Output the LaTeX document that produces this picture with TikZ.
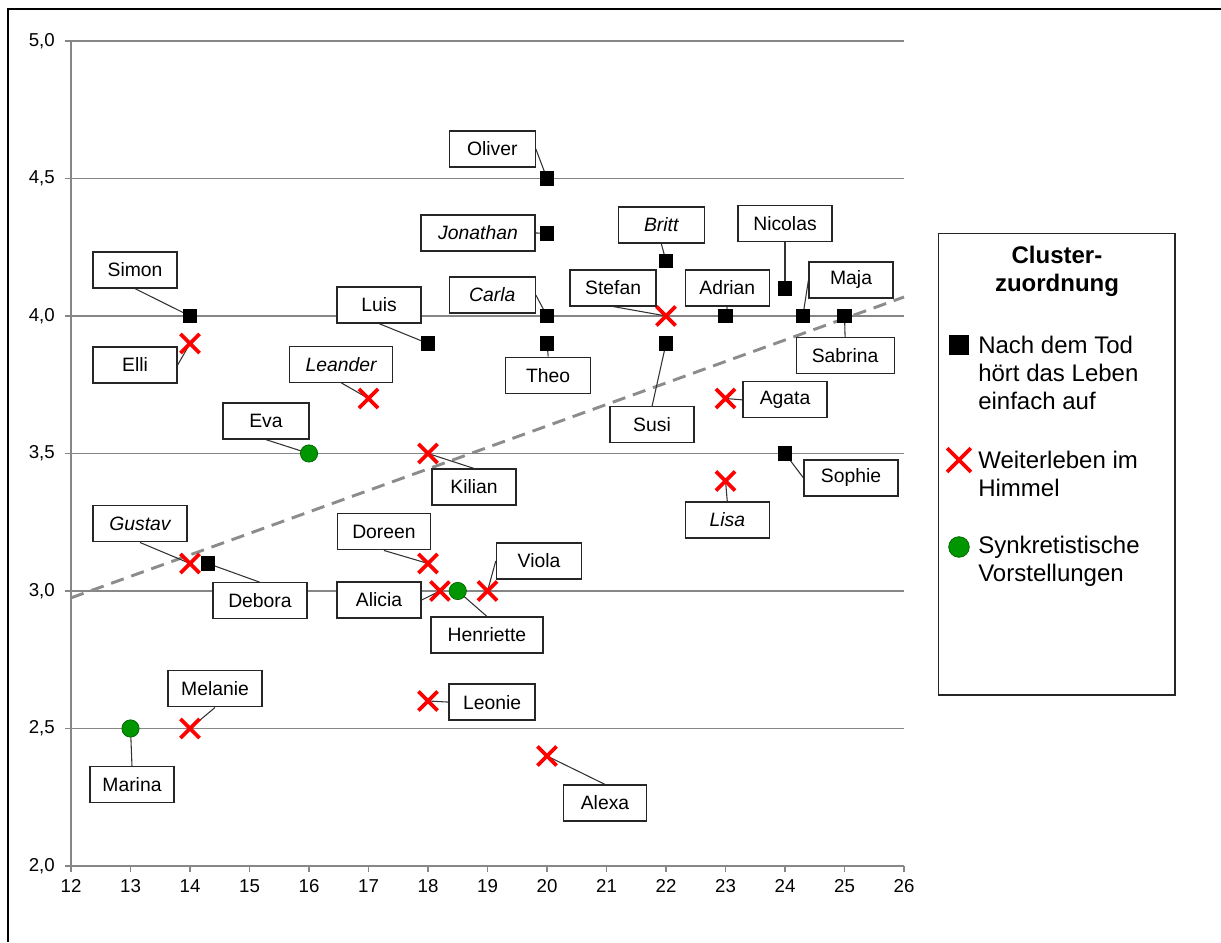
\documentclass[tikz,border=0pt]{standalone}
\usepackage{fontspec}
\setmainfont{Liberation Sans}
\usepackage{tikz}
\usetikzlibrary{shapes.misc}
\pgfdeclarelayer{bg}
\pgfsetlayers{bg,main}
\definecolor{gridgray}{RGB}{134,134,134}
\definecolor{trendgray}{RGB}{140,140,140}
\definecolor{dotgreen}{RGB}{0,150,0}
\definecolor{dotrim}{RGB}{0,95,0}
\tikzset{every node/.append style={font=\fontsize{14.5}{17}\selectfont}}
\tikzset{
  namebox/.style={draw=black!85, line width=0.9pt, fill=white, minimum width=63pt, minimum height=27pt, inner xsep=4pt},
  sqmark/.style={fill=black, minimum size=11pt, inner sep=0pt},
  crossmark/.style={cross out, draw=red, line width=2.8pt, minimum size=11.5pt, inner sep=0pt},
  dotmark/.style={circle, fill=dotgreen, draw=dotrim, line width=0.5pt, minimum size=13pt, inner sep=0pt},
  leader/.style={black!80, line width=0.8pt},
  gridline/.style={gridgray, line width=0.9pt},
  legendtext/.style={font=\fontsize{18}{21}\selectfont, align=left, anchor=west, inner sep=0pt}
}

\begin{document}
\begin{tikzpicture}[x=44.625pt, y=206.25pt]
    \useasboundingbox (10.8067,1.7236) rectangle (31.3277,5.1491);
    % frame (top and left only)
    \draw[line width=1.1pt] (10.9412,1.7236) -- (10.9412,5.1164) -- (31.3277,5.1164);

    % data points
    \node[sqmark] (oliver) at (20,4.5) {};
    \node[sqmark] (jonathan) at (20,4.3) {};
    \node[sqmark] (carla) at (20,4.0) {};
    \node[sqmark] (theo) at (20,3.9) {};
    \node[sqmark] (britt) at (22,4.2) {};
    \node[crossmark] (stefan) at (22,4.0) {};
    \node[sqmark] (adrian) at (23,4.0) {};
    \node[sqmark] (nicolas) at (24,4.1) {};
    \node[sqmark] (maja) at (24.3,4.0) {};
    \node[sqmark] (sabrina) at (25,4.0) {};
    \node[sqmark] (susi) at (22,3.9) {};
    \node[crossmark] (agata) at (23,3.7) {};
    \node[sqmark] (sophie) at (24,3.5) {};
    \node[crossmark] (lisa) at (23,3.4) {};
    \node[sqmark] (simon) at (14,4.0) {};
    \node[crossmark] (elli) at (14,3.9) {};
    \node[sqmark] (luis) at (18,3.9) {};
    \node[crossmark] (leander) at (17,3.7) {};
    \node[dotmark] (eva) at (16,3.5) {};
    \node[crossmark] (kilian) at (18,3.5) {};
    \node[crossmark] (gustav) at (14,3.1) {};
    \node[sqmark] (debora) at (14.3,3.1) {};
    \node[crossmark] (doreen) at (18,3.1) {};
    \node[crossmark] (alicia) at (18.2,3.0) {};
    \node[dotmark] (henriette) at (18.5,3.0) {};
    \node[crossmark] (viola) at (19,3.0) {};
    \node[crossmark] (melanie) at (14,2.5) {};
    \node[crossmark] (leonie) at (18,2.6) {};
    \node[dotmark] (marina) at (13,2.5) {};
    \node[crossmark] (alexa) at (20,2.4) {};

    % name labels
    \node[namebox, minimum width=64.5pt] (oliverL) at (19.08,4.607) {Oliver};
    \node[namebox, minimum width=85.5pt] (jonathanL) at (18.84,4.302) {\itshape Jonathan};
    \node[namebox, minimum width=64.5pt] (carlaL) at (19.08,4.076) {\itshape Carla};
    \node[namebox, minimum width=64pt] (theoL) at (20.02,3.785) {Theo};
    \node[namebox, minimum width=64.5pt] (brittL) at (21.92,4.331) {\itshape Britt};
    \node[namebox, minimum width=64.5pt] (stefanL) at (21.11,4.102) {Stefan};
    \node[namebox] (adrianL) at (23.03,4.102) {Adrian};
    \node[namebox, minimum width=70.5pt] (nicolasL) at (24.0,4.335) {Nicolas};
    \node[namebox] (majaL) at (25.11,4.131) {Maja};
    \node[namebox, minimum width=73.5pt] (sabrinaL) at (25.01,3.855) {Sabrina};
    \node[namebox] (susiL) at (21.765,3.604) {Susi};
    \node[namebox] (agataL) at (24.0,3.695) {Agata};
    \node[namebox, minimum width=70.5pt] (sophieL) at (25.11,3.411) {Sophie};
    \node[namebox] (lisaL) at (23.03,3.258) {\itshape Lisa};
    \node[namebox] (simonL) at (13.076,4.167) {Simon};
    \node[namebox] (elliL) at (13.076,3.822) {Elli};
    \node[namebox] (luisL) at (17.176,4.04) {Luis};
    \node[namebox, minimum width=77pt] (leanderL) at (16.538,3.825) {\itshape Leander};
    \node[namebox, minimum width=64.5pt] (evaL) at (15.277,3.618) {Eva};
    \node[namebox] (kilianL) at (18.773,3.378) {Kilian};
    \node[namebox, minimum width=70.5pt] (gustavL) at (13.16,3.244) {\itshape Gustav};
    \node[namebox, minimum width=70.5pt] (deboraL) at (15.176,2.964) {Debora};
    \node[namebox, minimum width=70pt] (doreenL) at (17.26,3.215) {Doreen};
    \node[namebox] (aliciaL) at (17.176,2.967) {Alicia};
    \node[namebox, minimum width=84pt] (henrietteL) at (18.99,2.84) {Henriette};
    \node[namebox, minimum width=64pt] (violaL) at (19.866,3.109) {Viola};
    \node[namebox, minimum width=70.5pt] (melanieL) at (14.42,2.644) {Melanie};
    \node[namebox, minimum width=64.5pt] (leonieL) at (19.076,2.596) {Leonie};
    \node[namebox] (marinaL) at (13.025,2.295) {Marina};
    \node[namebox, minimum width=62pt] (alexaL) at (20.975,2.229) {Alexa};

    \begin{pgfonlayer}{bg}
        % grid, axes, ticks
        \draw[gridline] (12,2) -- (12,5);
        \foreach \y/\t [count=\i] in {2/{2,0},2.5/{2,5},3/{3,0},3.5/{3,5},4/{4,0},4.5/{4,5},5/{5,0}} {
            \draw[gridline] (11.9,\y) -- (26,\y);
            \node[anchor=east, inner sep=0pt, font=\fontsize{14}{16}\selectfont] (ytick\i) at (11.731,\y) {\t};
        }
        \foreach \x in {12,...,26} {
            \draw[gridline] (\x,2) -- (\x,1.978);
            \node[font=\fontsize{14}{16}\selectfont] (xtick\x) at (\x,1.927) {\x};
        }
        % trend line
        \draw[trendgray, line width=2.2pt, dash pattern=on 10pt off 6pt] (12,2.975) -- (26,4.069);
        % leaders
        \draw[leader] (oliverL.east) -- (oliver.center);
        \draw[leader] (jonathanL.east) -- (jonathan.center);
        \draw[leader] (carlaL.east) -- (carla.center);
        \draw[leader] (theoL.north) -- (theo.center);
        \draw[leader] (brittL.south) -- (britt.center);
        \draw[leader] (stefanL.south) -- (stefan.center);
        \draw[leader] (adrianL.south) -- (adrian.center);
        \draw[leader] (nicolasL.south) -- (nicolas.center);
        \draw[leader] (majaL.west) -- (maja.center);
        \draw[leader] (sabrinaL.north) -- (sabrina.center);
        \draw[leader] (susiL.north) -- (susi.center);
        \draw[leader] (agataL.west) -- (agata.center);
        \draw[leader] (sophieL.west) -- (sophie.center);
        \draw[leader] (lisaL.north) -- (lisa.center);
        \draw[leader] (simonL.south) -- (simon.center);
        \draw[leader] (elliL.east) -- (elli.center);
        \draw[leader] (luisL.south) -- (luis.center);
        \draw[leader] (leanderL.south) -- (leander.center);
        \draw[leader] (evaL.south) -- (eva.center);
        \draw[leader] (kilianL.north) -- (kilian.center);
        \draw[leader] (gustavL.south) -- (gustav.center);
        \draw[leader] (deboraL.north) -- (debora.center);
        \draw[leader] (doreenL.south) -- (doreen.center);
        \draw[leader] (aliciaL.east) -- (alicia.center);
        \draw[leader] (henrietteL.north) -- (henriette.center);
        \draw[leader] (violaL.west) -- (viola.center);
        \draw[leader] (melanieL.south) -- (melanie.center);
        \draw[leader] (leonieL.west) -- (leonie.center);
        \draw[leader] (marinaL.north) -- (marina.center);
        \draw[leader] (alexaL.north) -- (alexa.center);
    \end{pgfonlayer}

    % legend
    \draw[black!85, line width=1pt] (26.577,2.6218) rectangle (30.555,4.3007);
    \node[align=center, font=\fontsize{18}{21}\selectfont\bfseries] (legtitle) at (28.571,4.1636) {Cluster-\\zuordnung};
    \node[sqmark, minimum size=15pt] (legsq) at (26.924,3.8945) {};
    \node[legendtext] (legsqtext) at (27.244,3.7927) {Nach dem Tod\\hört das Leben\\einfach auf};
    \node[crossmark, minimum size=15pt] (legx) at (26.924,3.476) {};
    \node[legendtext] (legxtext) at (27.244,3.4255) {Weiterleben im\\Himmel};
    \node[dotmark, minimum size=15.5pt] (legdot) at (26.924,3.16) {};
    \node[legendtext] (legdottext) at (27.244,3.109) {Synkretistische\\Vorstellungen};
\end{tikzpicture}
\end{document}
